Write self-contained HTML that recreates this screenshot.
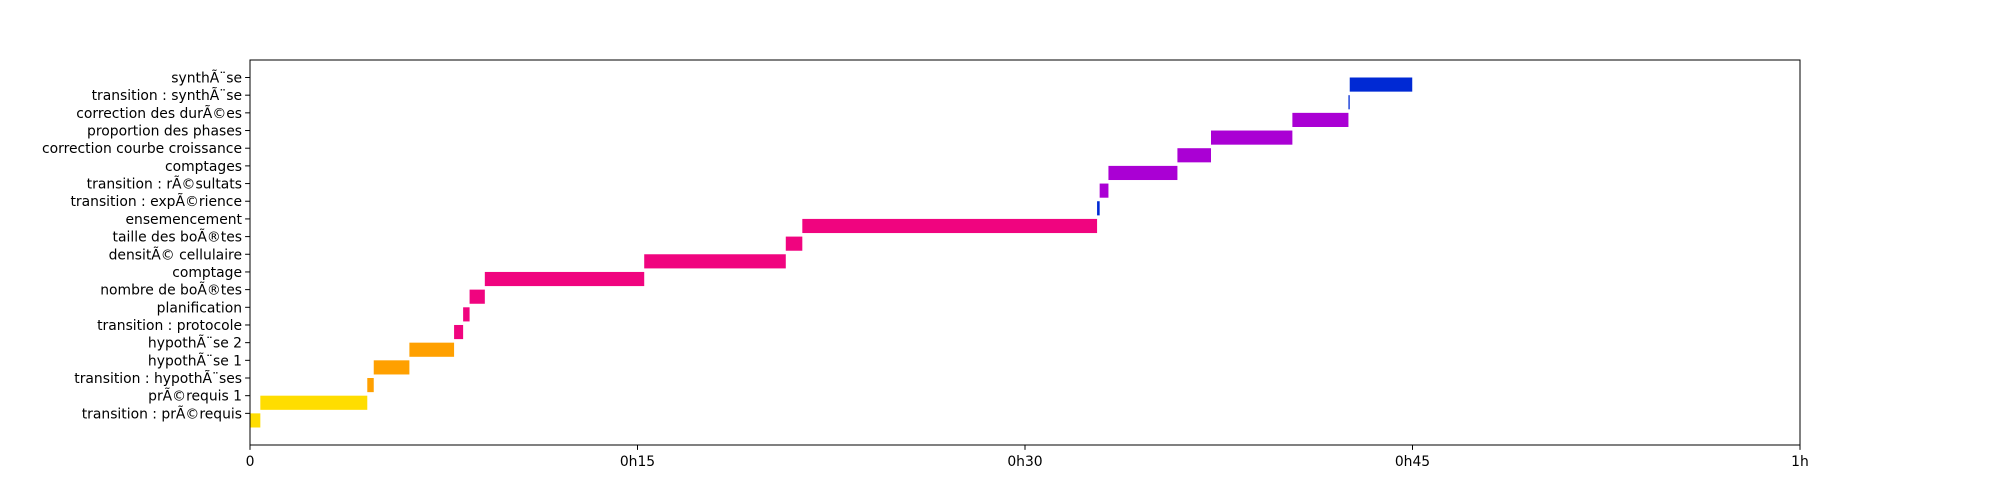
<!DOCTYPE html>
<html><head><meta charset="utf-8"><style>body{margin:0;background:#fff}svg{display:block}text{font-family:"DejaVu Sans","Liberation Sans",sans-serif;font-size:13.9px;fill:#000}</style></head>
<body>
<svg id="chart" width="2000" height="500" xmlns="http://www.w3.org/2000/svg"></svg>
<script>
const labels = ["transition : prÃ©requis","prÃ©requis 1","transition : hypothÃ¨ses","hypothÃ¨se 1","hypothÃ¨se 2","transition : protocole","planification","nombre de boÃ®tes","comptage","densitÃ© cellulaire","taille des boÃ®tes","ensemencement","transition : expÃ©rience","transition : rÃ©sultats","comptages","correction courbe croissance","proportion des phases","correction des durÃ©es","transition : synthÃ¨se","synthÃ¨se"];
const starts = [0,0.4,4.54,4.79,6.17,7.9,8.25,8.5,9.09,15.26,20.74,21.38,32.79,32.89,33.23,35.9,37.2,40.35,42.52,42.57];
const ends = [0.4,4.54,4.79,6.17,7.9,8.25,8.5,9.09,15.26,20.74,21.38,32.79,32.89,33.23,35.9,37.2,40.35,42.52,42.57,44.99];
const colors = ["#FFDD00","#FFDD00","#FFA000","#FFA000","#FFA000","#F0047F","#F0047F","#F0047F","#F0047F","#F0047F","#F0047F","#F0047F","#0029D4","#AA00D4","#AA00D4","#AA00D4","#AA00D4","#AA00D4","#0029D4","#0029D4"];
const xTicks = [0,15,30,45,60];
const xTickLabels = ["0","0h15","0h30","0h45","1h"];
const NS="http://www.w3.org/2000/svg", svg=document.getElementById('chart');
const L=250,R=1800,T=60,B=445, yMin=-1.79, yMax=19.99;
const x=m=>L+(R-L)*m/60;
const y=v=>B-(B-T)*(v-yMin)/(yMax-yMin);
function mk(tag,a){const e=document.createElementNS(NS,tag);for(const k in a)e.setAttribute(k,a[k]);svg.appendChild(e);return e;}
labels.forEach((lab,i)=>{
  const r=mk('rect',{x:x(starts[i]),y:y(i),width:Math.max(x(ends[i])-x(starts[i]),1),height:y(i-0.8)-y(i),fill:colors[i]});
  
  
  const tk=mk('line',{x1:L-4.9,x2:L,y1:y(i),y2:y(i),stroke:'#000','stroke-width':1});
  
  
  const t=mk('text',{x:L-8,y:y(i)+5,'text-anchor':'end'});t.textContent=lab;
  
  
});
xTicks.forEach((m,i)=>{
  const tk=mk('line',{x1:x(m),x2:x(m),y1:B,y2:B+4.9,stroke:'#000','stroke-width':1});
  
  
  const t=mk('text',{x:x(m),y:B+21,'text-anchor':'middle'});t.textContent=xTickLabels[i];
  
  
});
const f=mk('rect',{x:L,y:T,width:R-L,height:B-T,fill:'none',stroke:'#000','stroke-width':1});


</script>
</body></html>
